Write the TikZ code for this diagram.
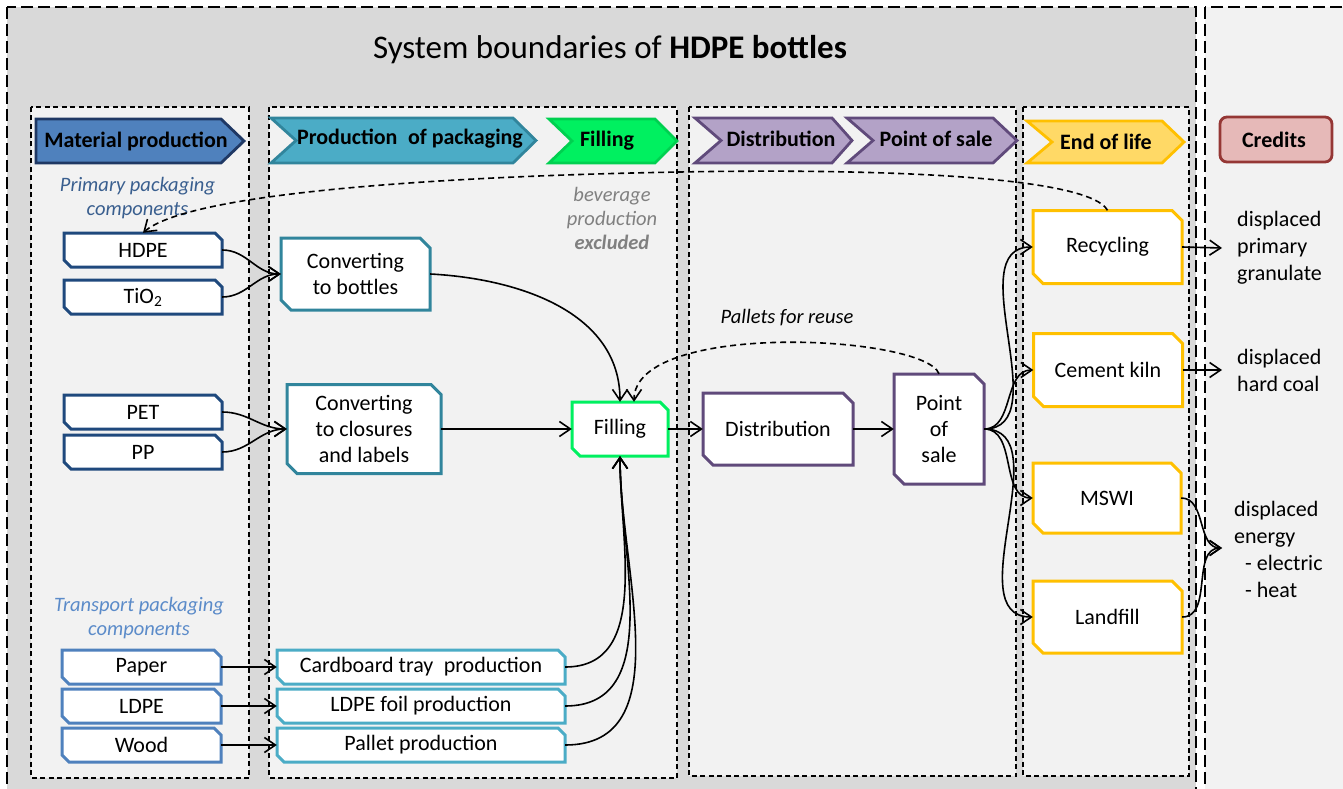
\documentclass[tikz,border=0pt]{standalone}
\usepackage{fontspec}
\setmainfont{Carlito}
\usetikzlibrary{arrows.meta}
\definecolor{outergray}{HTML}{D9D9D9}
\definecolor{colfill}{HTML}{F2F2F2}
\definecolor{matfill}{HTML}{4F81BD}
\definecolor{matdraw}{HTML}{1F3864}
\definecolor{matbox}{HTML}{1F497D}
\definecolor{trbox}{HTML}{4F81BD}
\definecolor{packfill}{HTML}{4BACC6}
\definecolor{packdraw}{HTML}{31859C}
\definecolor{fillgreen}{HTML}{00F060}
\definecolor{fillgreendk}{HTML}{00D050}
\definecolor{distfill}{HTML}{B3A2C7}
\definecolor{distdraw}{HTML}{604A7B}
\definecolor{eolfill}{HTML}{FFD966}
\definecolor{eoldraw}{HTML}{FFC000}
\definecolor{credfill}{HTML}{E6B9B8}
\definecolor{creddraw}{HTML}{953735}
\definecolor{primblue}{HTML}{3A5F8F}
\definecolor{transblue}{HTML}{5B8BC9}
\definecolor{bevgray}{HTML}{808080}
\tikzset{
  txt/.style={font=\fontsize{22}{26}\selectfont, inner sep=0pt, align=center},
  hdr/.style={font=\fontsize{22}{26}\selectfont\bfseries, inner sep=0pt},
  col/.style={draw=black, fill=colfill, dash pattern=on 5pt off 3.5pt, line width=1.4pt},
  outer/.style={draw=black, dash pattern=on 12pt off 5pt, line width=1.8pt},
  arr/.style={-{Straight Barb[length=11pt,width=15pt]}, line width=1.6pt},
  dasharr/.style={arr, dash pattern=on 6pt off 4pt},
  lbl/.style={font=\fontsize{20.5}{24.5}\selectfont\itshape, inner sep=0pt, align=center},
  cred/.style={font=\fontsize{22}{27}\selectfont, inner sep=0pt, align=left, anchor=west}
}
% chamfered box: name, cx, cy, w, h, colour, cut, text
\newcommand\chbox[8]{%
  \filldraw[draw=#6, fill=white, line width=3pt, line join=miter]
    ({#2-#4/2},{#3-#5/2}) -- ({#2+#4/2-#7},{#3-#5/2}) -- ({#2+#4/2},{#3-#5/2+#7})
    -- ({#2+#4/2},{#3+#5/2}) -- ({#2-#4/2+#7},{#3+#5/2}) -- ({#2-#4/2},{#3+#5/2-#7}) -- cycle;
  \node[txt, minimum width=#4, minimum height=#5] (#1) at (#2,#3) {#8};
}
% chevron: x1, x2, y1, y2, notch, point, style
\newcommand\chev[7]{%
  \filldraw[#7] (#1,#3) -- ({#2-#6},#3) -- (#2,{(#3+#4)/2}) -- ({#2-#6},#4)
    -- (#1,#4) -- ({#1+#5},{(#3+#4)/2}) -- cycle;
}
\begin{document}
\begin{tikzpicture}[x={(1pt,0)}, y={(0,-1pt)}]
\useasboundingbox (0,0) rectangle (1343,789);
\clip (0,0) rectangle (1343,789);
\fill[white] (0,0) rectangle (1343,789);
% outer regions
\filldraw[outer, fill=outergray] (7,7) rectangle (1196,820);
\filldraw[outer, fill=colfill] (1205,7) rectangle (1370,820);
% columns
\filldraw[col] (31,107) rectangle (249,778);
\filldraw[col] (269,107) rectangle (677,778);
\filldraw[col] (689,107) rectangle (1016,776);
\filldraw[col] (1023,107) rectangle (1189,776);
% title
\node[font=\fontsize{33}{38}\selectfont, inner sep=0pt] (title) at (610,50) {System boundaries of \textbf{HDPE bottles}};
% headers
\chev{36}{244}{119}{163}{0}{23}{fill=matfill, draw=matdraw, line width=2.8pt}
\node[hdr] (hMat) at (136,141) {Material production};
\chev{271}{536}{118}{163}{25}{23}{fill=packfill, draw=packdraw, line width=2.8pt}
\node[hdr] (hPack) at (410,139) {Production\hspace{0.25em} of packaging};
\chev{549}{677}{119}{163}{23}{22}{fill=fillgreen, draw=fillgreendk, line width=2.8pt}
\node[hdr] (hFill) at (607,141) {Filling};
\chev{695}{852}{118}{163}{26}{20}{fill=distfill, draw=distdraw, line width=2.8pt}
\node[hdr] (hDist) at (781,139) {Distribution};
\chev{847}{1017}{118}{163}{26}{24}{fill=distfill, draw=distdraw, line width=2.8pt}
\node[hdr] (hPos) at (936,139) {Point of sale};
\chev{1027}{1184}{121}{163}{25}{22}{fill=eolfill, draw=eoldraw, line width=2.8pt}
\node[hdr] (hEol) at (1106,142) {End of life};
\filldraw[fill=credfill, draw=creddraw, line width=2.8pt, rounded corners=7pt] (1220,117) rectangle (1332,162);
\node[hdr] (hCred) at (1274,140) {Credits};
% labels
\node[lbl, text=primblue] (primlbl) at (137.5,198) {Primary packaging\\components};
\node[lbl, text=transblue] (translbl) at (139,618) {Transport packaging\\components};
\node[lbl, text=bevgray, font=\fontsize{20.5}{24}\selectfont\itshape] (bevlbl) at (612,218) {beverage\\production\\\textbf{excluded}};
\node[lbl, text=black] (palllbl) at (787,318) {Pallets for reuse};
% material boxes
\chbox{hdpe}{143}{250}{158}{34}{matbox}{7}{HDPE}
\chbox{tio}{143}{297}{158}{34}{matbox}{7}{TiO\textsubscript{2}}
\chbox{pet}{143}{412}{158}{34}{matbox}{7}{PET}
\chbox{pp}{143}{452}{158}{34}{matbox}{7}{PP}
\chbox{paper}{141.5}{667}{159}{34}{trbox}{7}{Paper}
\chbox{ldpe}{141.5}{706}{159}{34}{trbox}{7}{LDPE}
\chbox{wood}{141.5}{745}{159}{34}{trbox}{7}{Wood}
% packaging boxes
\chbox{conv1}{355.5}{274}{149}{72}{packdraw}{10}{Converting\\to bottles}
\chbox{conv2}{364}{429}{154}{89}{packdraw}{10}{Converting\\to closures\\and labels}
\chbox{card}{421}{667}{288}{34}{packfill}{7}{Cardboard tray\hspace{0.25em} production}
\chbox{foil}{421}{706}{288}{34}{packfill}{7}{LDPE foil production}
\chbox{pall}{421}{745}{288}{34}{packfill}{7}{Pallet production}
% filling, distribution
\chbox{fill}{620}{429}{96}{54}{fillgreen}{8}{Filling}
\chbox{dist}{778}{429}{150}{72}{distdraw}{10}{Distribution}
\chbox{pos}{939}{429}{90}{110}{distdraw}{10}{Point\\of\\sale}
% end of life
\chbox{rec}{1107.5}{247}{149}{73}{eoldraw}{10}{Recycling}
\chbox{cem}{1108}{370}{149}{73}{eoldraw}{10}{Cement kiln}
\chbox{mswi}{1107}{498}{148}{70}{eoldraw}{10}{MSWI}
\chbox{land}{1107.5}{617}{149}{72}{eoldraw}{10}{Landfill}
% credits texts
\node[cred] (gran) at (1237,248) {displaced\\primary\\granulate};
\node[cred] (coal) at (1237,370.5) {displaced\\hard coal};
\node[cred] (energy) at (1234,549) {displaced\\energy\\\hspace*{0.5em}- electric\\\hspace*{0.5em}- heat};
\coordinate (cGran) at (1222,248);
\coordinate (cCoal) at (1222,370);
\coordinate (cEnergy) at (1222,548);
\coordinate (peak) at (680,172);
% connectors
\draw[arr] (hdpe.east) to[out=0,in=180] (conv1.west);
\draw[arr] (tio.east) to[out=0,in=180] (conv1.west);
\draw[arr] (pet.east) to[out=0,in=180] (conv2.west);
\draw[arr] (pp.east) to[out=0,in=180] (conv2.west);
\draw[arr] (paper.east) -- (card.west);
\draw[arr] (ldpe.east) -- (foil.west);
\draw[arr] (wood.east) -- (pall.west);
\draw[arr] (conv1.east) to[out=-3,in=90] (fill.north);
\draw[arr] (conv2.east) -- (fill.west);
\draw[arr] (card.east) to[out=0,in=-90] (fill.south);
\draw[arr] (foil.east) to[out=0,in=-90] (fill.south);
\draw[arr] (pall.east) to[out=0,in=-90] (fill.south);
\draw[arr] (fill.east) -- (dist.west);
\draw[arr] (dist.east) -- (pos.west);
\draw[arr] (pos.east) to[out=0,in=180] (rec.west);
\draw[arr] (pos.east) to[out=0,in=180] (cem.west);
\draw[arr] (pos.east) to[out=0,in=180] (mswi.west);
\draw[arr] (pos.east) to[out=0,in=180] (land.west);
\draw[arr] (rec.east) -- (cGran);
\draw[arr] (cem.east) -- (cCoal);
\draw[arr] (mswi.east) to[out=0,in=180] (cEnergy);
\draw[arr] (land.east) to[out=0,in=180] (cEnergy);
\draw[dasharr] (pos.north) .. controls (925,335) and (634,320) .. ([xshift=14pt]fill.north);
\draw[dasharr] (rec.north) .. controls (1090,178) and (900,168) .. (peak) .. controls (450,176) and (190,192) .. (hdpe.north);
\end{tikzpicture}
\end{document}
